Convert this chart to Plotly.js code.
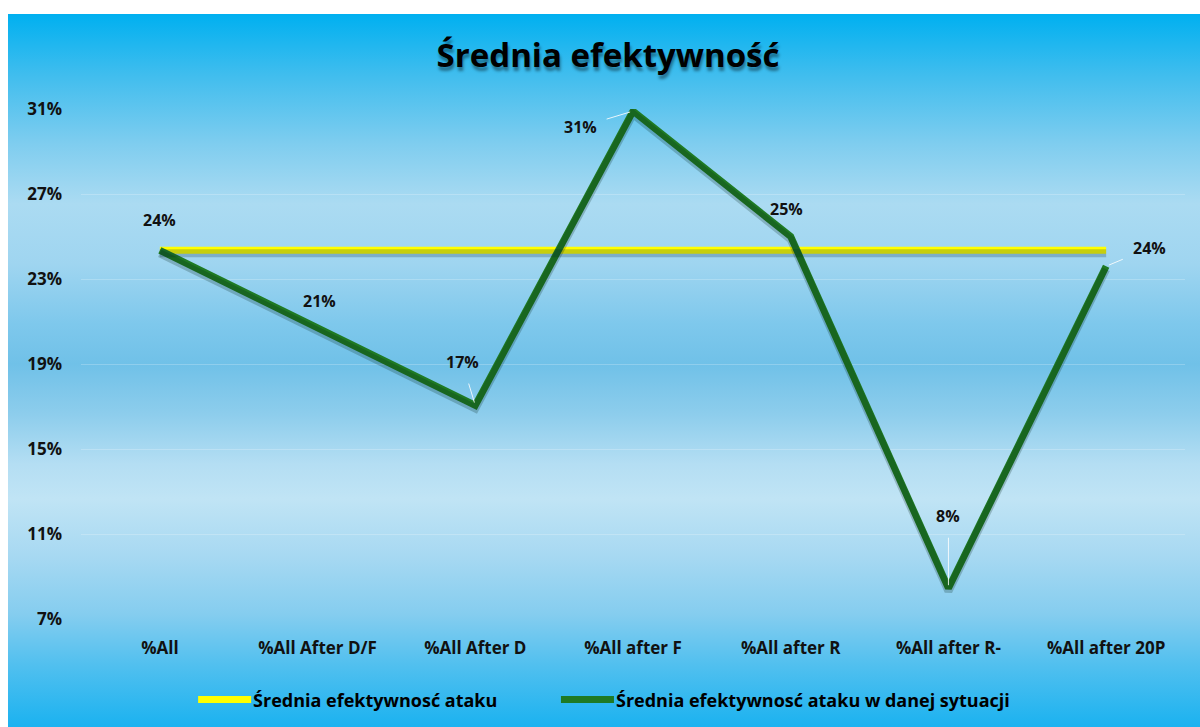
<!DOCTYPE html>
<html>
<head>
<meta charset="utf-8">
<script src="https://cdn.plot.ly/plotly-3.0.1.min.js"></script>
<style>
  html, body { margin: 0; padding: 0; background: #ffffff; width: 1200px; height: 727px; overflow: hidden; }
  #chart {
    position: absolute; left: 8px; top: 14px; width: 1192px; height: 713px;
    background: linear-gradient(to bottom,
      #00b0f0 0px,
      #3fbdee 60px,
      #7fcdef 130px,
      #abdbf2 190px,
      #9fd5f0 250px,
      #7ec8ec 310px,
      #70c1e8 350px,
      #8dcdec 400px,
      #b4def3 450px,
      #c0e4f5 485px,
      #a8d9f2 540px,
      #85cdef 600px,
      #52c0ef 650px,
      #1bb2f0 713px);
  }
</style>
</head>
<body>
<div id="chart"></div>
<script>
const categories = ['%All', '%All After D/F', '%All After D', '%All after F', '%All after R', '%All after R-', '%All after 20P'];
const avgAttack = [0.2435, 0.2435, 0.2435, 0.2435, 0.2435, 0.2435, 0.2435];
const situationAttack = [0.2435, 0.207, 0.1705, 0.309, 0.250, 0.0845, 0.236];
const yTickValues = [0.07, 0.11, 0.15, 0.19, 0.23, 0.27, 0.31];
const seriesNames = ['Średnia efektywnosć ataku', 'Średnia efektywnosć ataku w danej sytuacji'];
const chartTitle = 'Średnia efektywność';

// label placement (style): [showArrow, dx, dy]
const labelPlacement = [
  [false, 0, 30],
  [false, 2, 27],
  [true, -13, -43],
  [true, -53, 16],
  [false, -4, 28],
  [true, 0, -72],
  [true, 43, -18]
];

const shadowShift = 0.0014;
const FONT = 'Open Sans, sans-serif';

const traces = [
  { x: categories, y: avgAttack, yaxis: 'y2', mode: 'lines', showlegend: false, hoverinfo: 'skip',
    line: { color: 'rgba(0,30,60,0.22)', width: 8 } },
  { x: categories, y: situationAttack, yaxis: 'y2', mode: 'lines', showlegend: false, hoverinfo: 'skip',
    line: { color: 'rgba(0,30,20,0.22)', width: 8 } },
  { x: categories, y: avgAttack, name: seriesNames[0], mode: 'lines', legend: 'legend',
    line: { color: '#ffff00', width: 7 } },
  { x: categories, y: situationAttack, name: seriesNames[1], mode: 'lines', legend: 'legend2',
    line: { color: '#1f7a24', width: 7 } }
];

const fmt = v => Math.round(v * 100) + '%';

const annotations = situationAttack.map((v, i) => {
  const p = labelPlacement[i];
  const a = {
    x: categories[i], y: v, xref: 'x', yref: 'y', text: fmt(v),
    font: { family: FONT, size: 16, color: '#111111', weight: 700 }
  };
  if (p[0]) {
    a.showarrow = true; a.ax = p[1]; a.ay = p[2]; a.arrowhead = 0;
    a.arrowcolor = 'rgba(255,255,255,0.85)'; a.arrowwidth = 1; a.standoff = 3; a.startstandoff = 9;
  } else {
    a.showarrow = false; a.xshift = p[1]; a.yshift = p[2];
  }
  return a;
});

const legendBase = {
  orientation: 'h', xref: 'container', yref: 'container',
  xanchor: 'left', y: 0.038, yanchor: 'middle',
  itemwidth: 50,
  font: { family: FONT, size: 18, color: '#000000', weight: 700 },
  bgcolor: 'rgba(0,0,0,0)'
};

const layout = {
  width: 1192, height: 713,
  margin: { l: 73, r: 15, t: 95, b: 108 },
  paper_bgcolor: 'rgba(0,0,0,0)',
  plot_bgcolor: 'rgba(0,0,0,0)',
  title: {
    text: chartTitle, x: 0.5034, xref: 'container', xanchor: 'center',
    y: 0.9425, yref: 'container', yanchor: 'middle',
    font: { family: FONT, size: 33, color: '#000000', weight: 700,
            shadow: '1px 4px 3px rgba(0,0,0,0.4)' }
  },
  xaxis: {
    type: 'category', range: [-0.5, 6.5], showgrid: false, zeroline: false, showline: false,
    ticks: '', ticklabelstandoff: 17,
    tickfont: { family: FONT, size: 17, color: '#111111', weight: 700 }
  },
  yaxis: {
    range: [0.07, 0.31], tickvals: yTickValues, tickformat: '.0%',
    showgrid: true, gridcolor: 'rgba(255,255,255,0.22)', gridwidth: 1,
    zeroline: false, showline: false, ticks: '', ticklabelstandoff: 18,
    tickfont: { family: FONT, size: 17, color: '#111111', weight: 700 }
  },
  yaxis2: {
    overlaying: 'y', range: [0.07 + shadowShift, 0.31 + shadowShift], visible: false
  },
  showlegend: true,
  legend: Object.assign({}, legendBase, { x: 0.1553 }),
  legend2: Object.assign({}, legendBase, { x: 0.4597 }),
  annotations: annotations
};

Plotly.newPlot('chart', traces, layout, { displayModeBar: false, staticPlot: true }).then(gd => {
  gd.querySelectorAll('.legendlines path').forEach(p => p.setAttribute('d', 'M5,0h53'));
});
</script>
</body>
</html>
